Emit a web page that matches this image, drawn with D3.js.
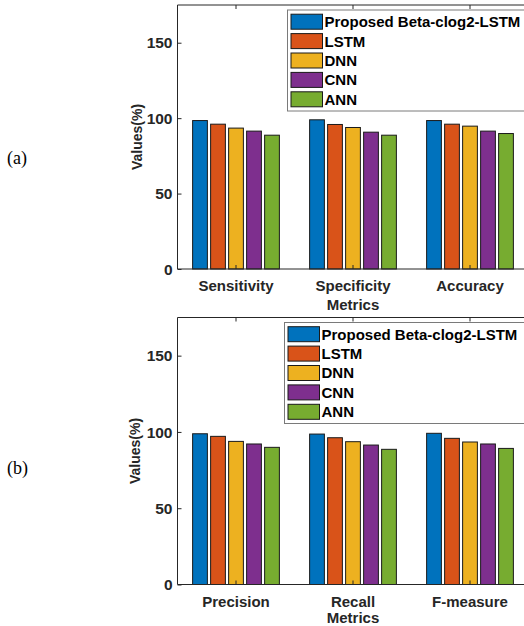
<!DOCTYPE html>
<html lang="en">
<head>
    <meta charset="UTF-8">
    <title>Metrics</title>
    <script src="https://d3js.org/d3.v7.min.js"></script>
    <style>
        body { margin: 0; background: #fff; }
        text { font-family: "Liberation Sans", Arial, sans-serif; font-weight: bold; fill: #262626; }
    </style>
</head>
<body>
    <div id="plot"></div>
    <script>
        "use strict";

        let series = ['Proposed Beta-clog2-LSTM', 'LSTM', 'DNN', 'CNN', 'ANN'];
        let colours = ['#0072BD', '#D95319', '#EDB120', '#7E2F8E', '#77AC30'];
        let yTicks = [0, 50, 100, 150];

        let catsA = ['Sensitivity', 'Specificity', 'Accuracy'];
        // one row per metric, one value per model
        let valuesA = [
            [98.4, 96.0, 93.4, 91.4, 88.7],
            [98.9, 95.8, 93.8, 90.7, 88.7],
            [98.4, 96.0, 94.7, 91.4, 89.8]
        ];

        let catsB = ['Precision', 'Recall', 'F-measure'];
        let valuesB = [
            [98.8, 97.1, 93.8, 92.1, 89.9],
            [98.6, 96.2, 93.6, 91.4, 88.6],
            [99.1, 95.8, 93.4, 92.1, 89.2]
        ];

        function translate(x, y){
            return 'translate(' + x + ', ' + y + ')';
        }

        let svg = d3.select('#plot')
                    .append('svg')
                    .attr('width', 524)
                    .attr('height', 626);

        function createPanel(opts){
            let x0 = d3.scaleBand()
                .domain(opts.cats)
                .range([opts.left, opts.left + 351])
                .paddingInner(0)
                .paddingOuter(0);
            let x1 = d3.scaleBand()
                .domain(series)
                .range([-45, 45])
                .paddingInner(0.18)
                .paddingOuter(0.09);
            let y = d3.scaleLinear()
                .domain([0, 175])
                .range([opts.bottom, opts.top]);
            let colour = d3.scaleOrdinal().domain(series).range(colours);

            let g = svg.append('g');

            // bars
            opts.cats.forEach((c, i) => {
                g.append('g')
                    .attr('transform', translate(x0(c) + x0.bandwidth() / 2, 0))
                    .selectAll('rect')
                    .data(series.map((s, j) => ({name: s, value: opts.values[i][j]})))
                    .enter()
                    .append('rect')
                    .attr('x', d => x1(d.name))
                    .attr('y', d => y(d.value))
                    .attr('width', x1.bandwidth())
                    .attr('height', d => y(0) - y(d.value))
                    .style('fill', d => colour(d.name))
                    .style('stroke', '#1a1a1a')
                    .style('stroke-width', 1);
            });

            // box
            let right = opts.left + 351;
            g.append('path')
                .attr('d', 'M' + right + ',' + opts.top + 'H' + opts.left + 'V' + opts.bottom + 'H' + right)
                .style('fill', 'none')
                .style('stroke', '#262626')
                .style('stroke-width', 1);

            // y axis, ticks inward
            let yAxis = g.append('g')
                .attr('transform', translate(opts.left, 0))
                .call(d3.axisRight(y).tickValues(yTicks).tickSize(4).tickFormat(''));
            yAxis.select('.domain').remove();
            yAxis.selectAll('line').style('stroke', '#262626');
            g.selectAll('.ylab')
                .data(yTicks)
                .enter()
                .append('text')
                .attr('x', opts.left - 5)
                .attr('y', d => y(d))
                .attr('dy', '0.36em')
                .attr('text-anchor', 'end')
                .style('font-size', '15.5px')
                .text(d => d);

            // x ticks, bottom and top, inward
            let centre = d => x0(d) + x0.bandwidth() / 2;
            let xb = g.append('g')
                .attr('transform', translate(0, opts.bottom))
                .call(d3.axisTop(x0).tickSize(4).tickFormat(''));
            xb.select('.domain').remove();
            xb.selectAll('line').style('stroke', '#262626');
            let xt = g.append('g')
                .attr('transform', translate(0, opts.top))
                .call(d3.axisBottom(x0).tickSize(4).tickFormat(''));
            xt.select('.domain').remove();
            xt.selectAll('line').style('stroke', '#262626');

            g.selectAll('.xlab')
                .data(opts.cats)
                .enter()
                .append('text')
                .attr('x', centre)
                .attr('y', opts.bottom + 22)
                .attr('text-anchor', 'middle')
                .style('font-size', '15px')
                .text(d => d);

            g.append('text')
                .attr('x', x0(opts.cats[1]) + x0.bandwidth() / 2)
                .attr('y', opts.bottom + opts.metricsDy)
                .attr('text-anchor', 'middle')
                .style('font-size', '15px')
                .text('Metrics');

            g.append('text')
                .attr('transform', translate(opts.ylabX, (opts.top + opts.bottom) / 2) + ' rotate(-90)')
                .attr('text-anchor', 'middle')
                .style('font-size', '14px')
                .text('Values(%)');

            // legend
            let lg = g.append('g').attr('transform', translate(opts.legX, opts.legY));
            lg.append('rect')
                .attr('x', 0).attr('y', 0)
                .attr('width', 260).attr('height', 101)
                .style('fill', '#fff')
                .style('stroke', '#7a7a7a')
                .style('stroke-width', 1);
            let rows = lg.selectAll('.row')
                .data(series)
                .enter()
                .append('g')
                .attr('transform', (d, i) => translate(0, 11.7 + i * 19.4));
            rows.append('rect')
                .attr('x', 3.5).attr('y', -7.5)
                .attr('width', 31.5).attr('height', 15)
                .style('fill', d => colour(d))
                .style('stroke', '#1a1a1a')
                .style('stroke-width', 1);
            rows.append('text')
                .attr('x', 37)
                .attr('dy', '0.36em')
                .style('font-size', '15px')
                .style('fill', '#000')
                .text(d => d);

            // panel label
            svg.append('text')
                .attr('x', 7)
                .attr('y', opts.labY)
                .style('font-family', '"Liberation Serif", "Times New Roman", serif')
                .style('font-weight', 'normal')
                .style('font-size', '18px')
                .style('fill', '#000')
                .text(opts.label);
        }

        createPanel({cats: catsA, values: valuesA, left: 177.5, top: 5, bottom: 269, metricsDy: 41,
                     ylabX: 142, legX: 287.5, legY: 10, label: '(a)', labY: 164});
        createPanel({cats: catsB, values: valuesB, left: 177.5, top: 317.5, bottom: 584.5, metricsDy: 38,
                     ylabX: 140, legX: 284.5, legY: 322.5, label: '(b)', labY: 474});
    </script>
</body>
</html>
